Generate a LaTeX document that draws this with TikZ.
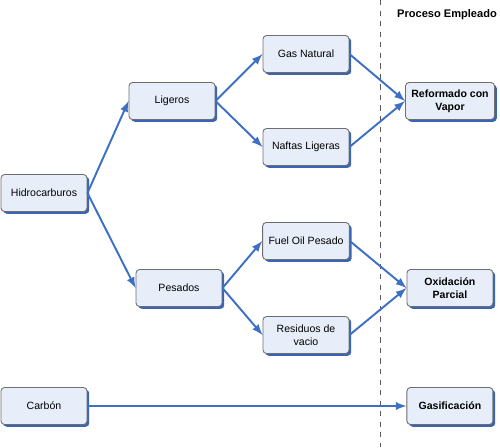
\documentclass[tikz,border=0pt]{standalone}
\usepackage{fontspec}
\setmainfont{Liberation Sans}
\usepackage{tikz}
\usetikzlibrary{arrows,positioning,shadows}
\definecolor{cajafondo}{RGB}{232,238,249}
\definecolor{cajaborde}{RGB}{110,110,110}
\definecolor{flecha}{RGB}{61,111,196}
\definecolor{sombra}{RGB}{58,100,182}

\begin{document}
\begin{tikzpicture}[x=0.02cm,y=-0.02cm,
	caja/.style={rectangle, rounded corners=2pt, draw=cajaborde, fill=cajafondo, line width=0.5pt, minimum width=1.72cm, minimum height=0.74cm, align=center, font=\fontsize{6}{7.4}\selectfont, general shadow={fill=sombra, shadow xshift=0.045cm, shadow yshift=-0.045cm}},
	proceso/.style={caja, font=\bfseries\fontsize{6}{7.4}\selectfont},
	flujo/.style={draw, ->, >=latex, color=flecha, line width=1.1pt}]
		\useasboundingbox (0,0) rectangle (500,447);
		\draw [dashed, draw=black!65] (380,0) -- (380,447);
		\node at (447,15) [font=\bfseries\fontsize{6.3}{7.6}\selectfont] (T) {Proceso Empleado};
		\node at (44,193) [caja] (H) {Hidrocarburos};
		\node at (172,101) [caja] (L) {Ligeros};
		\node at (179,288) [caja] (P) {Pesados};
		\node at (44,406) [caja] (C) {Carbón};
		\node at (306,54) [caja] (GN) {Gas Natural};
		\node at (306,147) [caja] (NL) {Naftas Ligeras};
		\node at (306,241) [caja] (FO) {Fuel Oil Pesado};
		\node at (306,335) [caja] (RV) {Residuos de\\vacio};
		\node at (450,101) [proceso] (RF) {Reformado con\\Vapor};
		\node[proceso] (OP) [right of=P, xshift=4.42cm] {Oxidación\\Parcial};
		\node[proceso] (GS) [right of=C, xshift=7.12cm] {Gasificación};
		%\node at (GS) [circle, draw=flecha, dashed] (GSc) {};
		\path (H.east) edge [flujo] (L.west) (H.east) edge [flujo] (P.west);
		\path (L.east) edge [flujo] (GN.west) (L.east) edge [flujo] (NL.west);
		\path (P.east) edge [flujo] (FO.west) (P.east) edge [flujo] (RV.west);
		\path (GN.east) edge [flujo] (RF.west) (NL.east) edge [flujo] (RF.west);
		\path (FO.east) edge [flujo] (OP.west) (RV.east) edge [flujo] (OP.west);
		\path (C) edge [flujo] (GS);
\end{tikzpicture}
\end{document}
